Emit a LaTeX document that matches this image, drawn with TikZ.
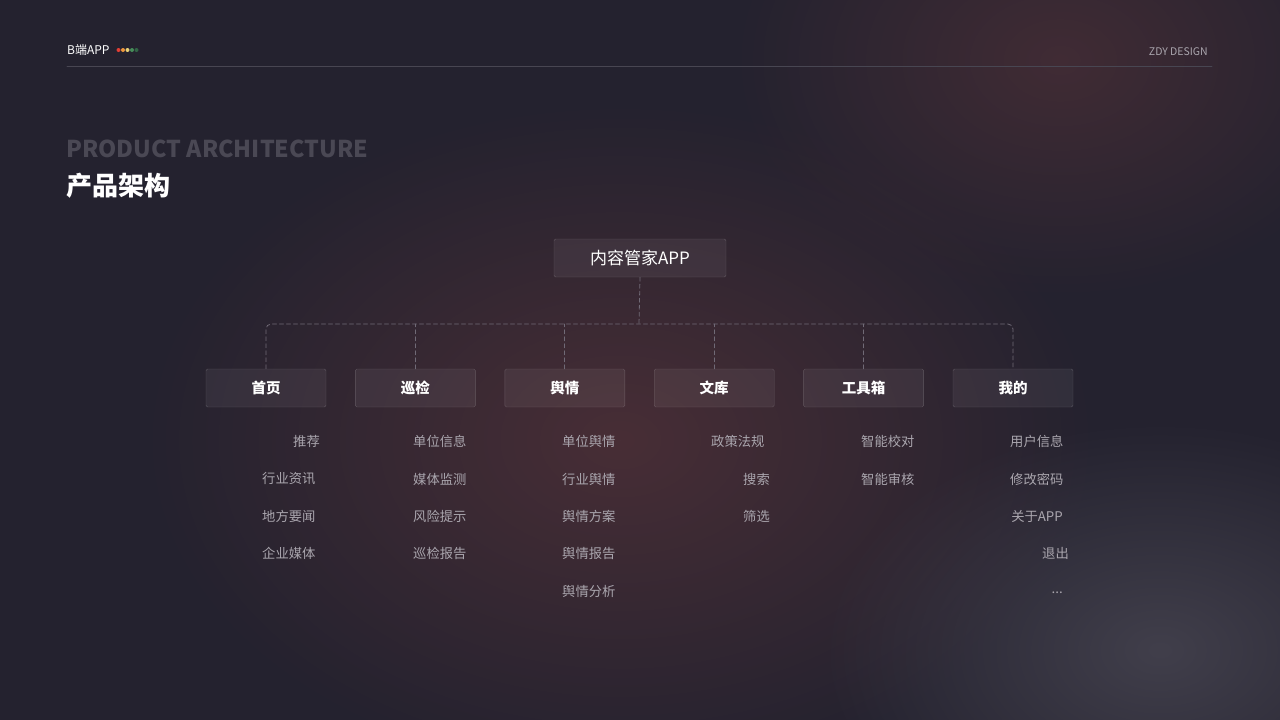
\documentclass[tikz,border=0pt]{standalone}
\usepackage{fontspec}
\setmainfont{Noto Sans CJK SC}
\usetikzlibrary{positioning,fadings}

\definecolor{bgbase}{RGB}{36,34,47}
\definecolor{glowred}{RGB}{72,46,54}
\definecolor{glowgray}{RGB}{70,68,80}
\definecolor{rulegray}{RGB}{72,70,82}
\definecolor{titlegray}{RGB}{74,72,84}
\definecolor{itemgray}{RGB}{170,166,174}
\definecolor{linkgray}{RGB}{112,106,118}
\definecolor{dotred}{RGB}{226,62,52}
\definecolor{dotorange}{RGB}{236,150,60}
\definecolor{dotyellow}{RGB}{232,208,120}
\definecolor{dotgreen}{RGB}{70,140,90}
\definecolor{dotdkgreen}{RGB}{50,100,70}

\tikzfading[name=glowfade, inner color=transparent!0, outer color=transparent!100]

\tikzset{
  box/.style={draw=white, draw opacity=.2, fill=white, fill opacity=.06, text opacity=1,
    rounded corners=1.5pt, text=white, minimum height=38pt},
  rootbox/.style={box, minimum width=172pt, font=\fontsize{17}{20}\selectfont},
  childbox/.style={box, minimum width=120pt, font=\bfseries\fontsize{14.5}{17}\selectfont},
  item/.style={inner sep=0pt, text=itemgray, font=\fontsize{13.3}{16}\selectfont},
  link/.style={draw=linkgray, dash pattern=on 4pt off 3pt, line width=.8pt},
}

\begin{document}
\begin{tikzpicture}[x=1pt, y=-1pt, line join=round, line cap=round]
\useasboundingbox (0,0) rectangle (1280,720);

% background
\fill[bgbase] (0,0) rectangle (1280,720);
\fill[glowred, path fading=glowfade] (620,440) ellipse (480 and 340);
\fill[glowred, path fading=glowfade, opacity=.8] (1060,60) ellipse (330 and 240);
\fill[glowgray, path fading=glowfade, opacity=.85] (1160,650) ellipse (340 and 230);

% header
\node[anchor=west, inner sep=0pt, text=white, font=\fontsize{12}{14}\selectfont] (brand) at (67,50) {B端APP};
\foreach \c [count=\i] in {dotred,dotorange,dotyellow,dotgreen,dotdkgreen}
    \fill[\c] (114+4.5*\i,50) circle (2pt);
\node[anchor=east, inner sep=0pt, text=itemgray, font=\fontsize{10.5}{12}\selectfont] (studio) at (1208,52) {ZDY DESIGN};
\draw[rulegray, line width=.8pt] (67,66) -- (1212,66);

% title
\node[anchor=west, inner sep=0pt, text=titlegray, font=\bfseries\fontsize{23.2}{28}\selectfont] (entitle) at (66,149) {PRODUCT ARCHITECTURE};
\node[anchor=west, inner sep=0pt, text=white, font=\bfseries\fontsize{26}{30}\selectfont] (cntitle) at (66,186) {产品架构};

% tree
\node[rootbox] (root) at (640,258) {内容管家APP};
\coordinate (bus) at (639,324);

\foreach \t [count=\i] in {首页,巡检,舆情,文库,工具箱,我的}
    \node[childbox] (c\i) at (266+149.4*\i-149.4,388) {\t};

\draw[link] (root.south) -- (bus);
\draw[link, rounded corners=5pt] (c1.north) |- (bus) -| (c6.north);
\foreach \i in {2,...,5}
    \draw[link] (c\i.north) -- (c\i.north |- bus);

% items
\node[item, anchor=east] (a1) at (320,441) {推荐};
\node[item, anchor=west] (a2) at (262,479) {行业资讯};
\node[item, anchor=west] (a3) at (262,516) {地方要闻};
\node[item, anchor=west] (a4) at (262,553) {企业媒体};

\foreach \t/\y [count=\i] in {单位信息/441,媒体监测/479,风险提示/516,巡检报告/553}
    \node[item, anchor=west] (b\i) at (413,\y) {\t};

\foreach \t/\y [count=\i] in {单位舆情/441,行业舆情/479,舆情方案/516,舆情报告/553,舆情分析/591}
    \node[item, anchor=west] (d\i) at (562,\y) {\t};

\node[item, anchor=west] (e1) at (711,441) {政策法规};
\node[item, anchor=east] (e2) at (770,479) {搜索};
\node[item, anchor=east] (e3) at (770,516) {筛选};

\node[item, anchor=west] (f1) at (861,441) {智能校对};
\node[item, anchor=west] (f2) at (861,479) {智能审核};

\node[item, anchor=west] (g1) at (1010,441) {用户信息};
\node[item, anchor=west] (g2) at (1010,479) {修改密码};
\node[item, anchor=east] (g3) at (1063,516) {关于APP};
\node[item, anchor=east] (g4) at (1069,553) {退出};
\node[item, anchor=east] (g5) at (1063,593) {...};

\end{tikzpicture}
\end{document}
